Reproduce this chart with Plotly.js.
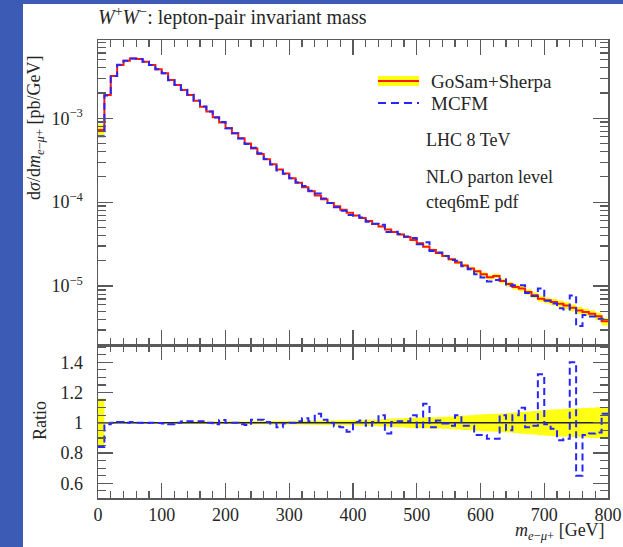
<!DOCTYPE html>
<html>
<head>
<meta charset="utf-8">
<script src="https://cdn.plot.ly/plotly-3.0.1.min.js"></script>
<style>
  html, body { margin:0; padding:0; background:#3b5bb4; width:623px; height:547px; overflow:hidden; }
  #white { position:absolute; left:23px; top:4px; width:600px; height:543px; background:#ffffff; }
  #plot { position:absolute; left:0; top:0; width:623px; height:547px; }
</style>
</head>
<body>
<div id="white"></div>
<div id="plot"></div>
<script>
// ---------------- data (10 GeV bins from 0 to 800 GeV) ----------------
const binWidth = 10;
const nBins = 80;

// GoSam+Sherpa dσ/dm [pb/GeV]
const gosam = [
  7.24e-4, 1.89e-3, 3.19e-3, 4.32e-3, 4.85e-3, 5.13e-3, 5.08e-3, 4.72e-3, 4.32e-3, 3.83e-3,
  3.44e-3, 2.86e-3, 2.49e-3, 2.17e-3, 1.89e-3, 1.61e-3, 1.37e-3, 1.20e-3, 1.03e-3, 8.87e-4,
  7.59e-4, 6.62e-4, 5.78e-4, 5.01e-4, 4.37e-4, 3.76e-4, 3.24e-4, 2.82e-4, 2.45e-4, 2.19e-4,
  1.93e-4, 1.70e-4, 1.51e-4, 1.35e-4, 1.20e-4, 1.08e-4, 9.77e-5, 8.91e-5, 8.13e-5, 7.50e-5,
  6.92e-5, 6.46e-5, 5.96e-5, 5.50e-5, 5.13e-5, 4.73e-5, 4.42e-5, 4.12e-5, 3.85e-5, 3.55e-5,
  3.24e-5, 2.95e-5, 2.69e-5, 2.48e-5, 2.29e-5, 2.09e-5, 1.91e-5, 1.76e-5, 1.62e-5, 1.50e-5,
  1.38e-5, 1.27e-5, 1.32e-5, 1.15e-5, 1.06e-5, 9.77e-6, 9.33e-6, 8.51e-6, 7.76e-6, 7.08e-6,
  6.76e-6, 6.46e-6, 6.17e-6, 5.89e-6, 5.50e-6, 5.13e-6, 4.90e-6, 4.68e-6, 4.37e-6, 3.80e-6
];

// MCFM / GoSam+Sherpa ratio
const mcfmRatio = [
  0.84, 0.99, 1.00, 1.005, 1.00, 1.005, 1.00, 0.998, 1.00, 0.998,
  0.995, 0.99, 1.00, 1.008, 1.01, 1.01, 1.01, 1.00, 0.99, 1.018,
  1.00, 1.00, 0.99, 0.985, 1.02, 1.02, 1.005, 0.995, 0.97, 0.995,
  1.00, 1.01, 1.03, 1.01, 1.06, 1.02, 1.00, 0.975, 0.97, 0.94,
  1.005, 1.015, 0.98, 1.005, 1.05, 0.93, 1.005, 1.01, 1.01, 1.05,
  0.97, 1.125, 0.97, 1.015, 0.995, 0.98, 1.05, 0.98, 0.98, 0.92,
  0.92, 0.895, 0.895, 1.05, 0.95, 1.05, 1.10, 0.97, 0.98, 1.32,
  0.99, 0.96, 0.885, 0.895, 1.40, 0.65, 0.92, 0.93, 0.935, 1.06
];

// GoSam+Sherpa relative uncertainty (half width of yellow band)
const bandRel = [
  0.16, 0.006, 0.005, 0.005, 0.005, 0.005, 0.005, 0.005, 0.006, 0.006,
  0.006, 0.006, 0.007, 0.007, 0.007, 0.008, 0.008, 0.008, 0.008, 0.008,
  0.008, 0.008, 0.009, 0.009, 0.010, 0.010, 0.010, 0.011, 0.011, 0.012,
  0.012, 0.012, 0.013, 0.013, 0.014, 0.014, 0.015, 0.015, 0.016, 0.017,
  0.018, 0.019, 0.020, 0.022, 0.024, 0.026, 0.028, 0.030, 0.032, 0.034,
  0.035, 0.036, 0.037, 0.038, 0.040, 0.042, 0.045, 0.048, 0.050, 0.053,
  0.056, 0.058, 0.060, 0.062, 0.065, 0.068, 0.072, 0.075, 0.078, 0.082,
  0.085, 0.088, 0.090, 0.092, 0.094, 0.096, 0.098, 0.100, 0.102, 0.105
];

const xTickVals = [0, 100, 200, 300, 400, 500, 600, 700, 800];
const yLogTickVals = [1e-5, 1e-4, 1e-3];
const yLogTickText = ['10<sup>\u22125</sup>', '10<sup>\u22124</sup>', '10<sup>\u22123</sup>'];
const ratioTickVals = [0.6, 0.8, 1.0, 1.2, 1.4];
const ratioTickText = ['0.6', '0.8', '1', '1.2', '1.4'];

// ---------------- helpers ----------------
const edges = [];
for (let i = 0; i <= nBins; i++) edges.push(i * binWidth);
const step = arr => arr.concat([arr[arr.length - 1]]);

const mcfm = gosam.map((v, i) => v * mcfmRatio[i]);
const gLo = gosam.map((v, i) => v * (1 - bandRel[i]));
const gHi = gosam.map((v, i) => v * (1 + bandRel[i]));
const rOne = gosam.map(v => v / v);
const rLo = bandRel.map(b => 1 - b);
const rHi = bandRel.map(b => 1 + b);

// pixel -> paper helpers (plot area: x 98..608, y 40..498)
const L = 98, R = 608, T = 40, B = 498;
const px = x => (x - L) / (R - L);
const py = y => (B - y) / (B - T);

const YEL = '#ffff14';
const RED = '#ff1a00';
const BLU = '#2626ff';
const FONT = 'Liberation Serif, Times New Roman, serif';
const TXT = '#262626';
const AX = '#5a5a5a';

const common = { mode: 'lines', line: { shape: 'hv' }, hoverinfo: 'skip', showlegend: false };

const traces = [
  Object.assign({}, common, { x: edges, y: step(gLo), xaxis: 'x', yaxis: 'y', line: { shape: 'hv', width: 0, color: YEL } }),
  Object.assign({}, common, { x: edges, y: step(gHi), xaxis: 'x', yaxis: 'y', fill: 'tonexty', fillcolor: YEL, line: { shape: 'hv', width: 0, color: YEL } }),
  Object.assign({}, common, { x: edges, y: step(gosam), xaxis: 'x', yaxis: 'y', line: { shape: 'hv', width: 2, color: RED } }),
  Object.assign({}, common, { x: edges, y: step(mcfm), xaxis: 'x', yaxis: 'y', line: { shape: 'hv', width: 2, color: BLU, dash: '7px,4px' } }),
  Object.assign({}, common, { x: edges, y: step(rLo), xaxis: 'x2', yaxis: 'y2', line: { shape: 'hv', width: 0, color: YEL } }),
  Object.assign({}, common, { x: edges, y: step(rHi), xaxis: 'x2', yaxis: 'y2', fill: 'tonexty', fillcolor: YEL, line: { shape: 'hv', width: 0, color: YEL } }),
  Object.assign({}, common, { x: edges, y: step(rOne), xaxis: 'x2', yaxis: 'y2', line: { shape: 'hv', width: 1.5, color: '#222222' } }),
  Object.assign({}, common, { x: edges, y: step(mcfmRatio), xaxis: 'x2', yaxis: 'y2', line: { shape: 'hv', width: 2, color: BLU, dash: '7px,4px' } })
];

const tickFont = { family: FONT, size: 18, color: TXT };
const axBase = {
  showline: true, linecolor: AX, linewidth: 1.5,
  ticks: 'inside', tickcolor: AX, tickwidth: 1.3, ticklen: 15,
  mirror: 'allticks', showgrid: false, zeroline: false, tickfont: tickFont
};

const domSplit = py(345);

const layout = {
  width: 623, height: 547,
  margin: { l: L, r: 623 - R, t: T, b: 547 - B, pad: 0 },
  paper_bgcolor: 'rgba(0,0,0,0)',
  plot_bgcolor: 'rgba(0,0,0,0)',
  showlegend: false,
  title: {
    text: '<i>W</i><sup>+</sup><i>W</i><sup>\u2212</sup>: lepton-pair invariant mass',
    font: { family: FONT, size: 20, color: TXT },
    x: 98 / 623, xanchor: 'left', xref: 'container',
    y: 1 - 17 / 547, yanchor: 'middle', yref: 'container'
  },
  xaxis: Object.assign({}, axBase, {
    domain: [0, 1], anchor: 'y', range: [0, 800],
    tickmode: 'array', tickvals: xTickVals, showticklabels: false,
    minor: { dtick: 20, tick0: 0, ticks: 'inside', ticklen: 7, tickcolor: AX, tickwidth: 1.2 }
  }),
  yaxis: Object.assign({}, axBase, {
    domain: [domSplit, 1], anchor: 'x', type: 'log', range: [-5.702, -2.068],
    tickmode: 'array', tickvals: yLogTickVals, ticktext: yLogTickText,
    ticklabelstandoff: 10,
    minor: { dtick: 'D1', ticks: 'inside', ticklen: 8, tickcolor: AX, tickwidth: 1.2 }
  }),
  xaxis2: Object.assign({}, axBase, {
    domain: [0, 1], anchor: 'y2', range: [0, 800], matches: 'x',
    tickmode: 'array', tickvals: xTickVals, ticktext: xTickVals.map(String),
    ticklabelstandoff: 0,
    minor: { dtick: 20, tick0: 0, ticks: 'inside', ticklen: 7, tickcolor: AX, tickwidth: 1.2 }
  }),
  yaxis2: Object.assign({}, axBase, {
    domain: [0, domSplit], anchor: 'x2', range: [0.503, 1.514],
    tickmode: 'array', tickvals: ratioTickVals, ticktext: ratioTickText,
    ticklabelstandoff: 10,
    minor: { dtick: 0.05, tick0: 0, ticks: 'inside', ticklen: 8, tickcolor: AX, tickwidth: 1.2 }
  }),
  shapes: [
    { type: 'rect', xref: 'paper', yref: 'paper', x0: px(378), x1: px(419), y0: py(86), y1: py(76), fillcolor: YEL, line: { width: 0 } },
    { type: 'line', xref: 'paper', yref: 'paper', x0: px(378), x1: px(419), y0: py(81), y1: py(81), line: { color: RED, width: 2 } },
    { type: 'line', xref: 'paper', yref: 'paper', x0: px(378), x1: px(419), y0: py(103), y1: py(103), line: { color: BLU, width: 2, dash: '8px,5px' } }
  ],
  annotations: [
    { text: 'GoSam+Sherpa', xref: 'paper', yref: 'paper', x: px(429), y: py(81), xanchor: 'left', yanchor: 'middle', showarrow: false, font: { family: FONT, size: 19, color: TXT } },
    { text: 'MCFM', xref: 'paper', yref: 'paper', x: px(429), y: py(103), xanchor: 'left', yanchor: 'middle', showarrow: false, font: { family: FONT, size: 19, color: TXT } },
    { text: 'LHC 8 TeV', xref: 'paper', yref: 'paper', x: px(424), y: py(140), xanchor: 'left', yanchor: 'middle', showarrow: false, font: { family: FONT, size: 18, color: TXT } },
    { text: 'NLO parton level', xref: 'paper', yref: 'paper', x: px(424), y: py(177), xanchor: 'left', yanchor: 'middle', showarrow: false, font: { family: FONT, size: 18, color: TXT } },
    { text: 'cteq6mE pdf', xref: 'paper', yref: 'paper', x: px(424), y: py(202), xanchor: 'left', yanchor: 'middle', showarrow: false, font: { family: FONT, size: 18, color: TXT } },
    { text: 'd<i>\u03c3</i>/d<i>m</i><sub><i>e</i>\u2212<i>\u03bc</i>+</sub> [pb/GeV]', xref: 'paper', yref: 'paper', x: px(35), y: py(128), xanchor: 'center', yanchor: 'middle', textangle: -90, showarrow: false, font: { family: FONT, size: 18, color: TXT } },
    { text: 'Ratio', xref: 'paper', yref: 'paper', x: px(40), y: py(421), xanchor: 'center', yanchor: 'middle', textangle: -90, showarrow: false, font: { family: FONT, size: 18, color: TXT } },
    { text: '<i>m</i><sub><i>e</i>\u2212<i>\u03bc</i>+</sub> [GeV]', xref: 'paper', yref: 'paper', x: px(607), y: py(531), xanchor: 'right', yanchor: 'middle', showarrow: false, font: { family: FONT, size: 18, color: TXT } }
  ]
};

Plotly.newPlot('plot', traces, layout, { staticPlot: true, displayModeBar: false });
</script>
</body>
</html>
